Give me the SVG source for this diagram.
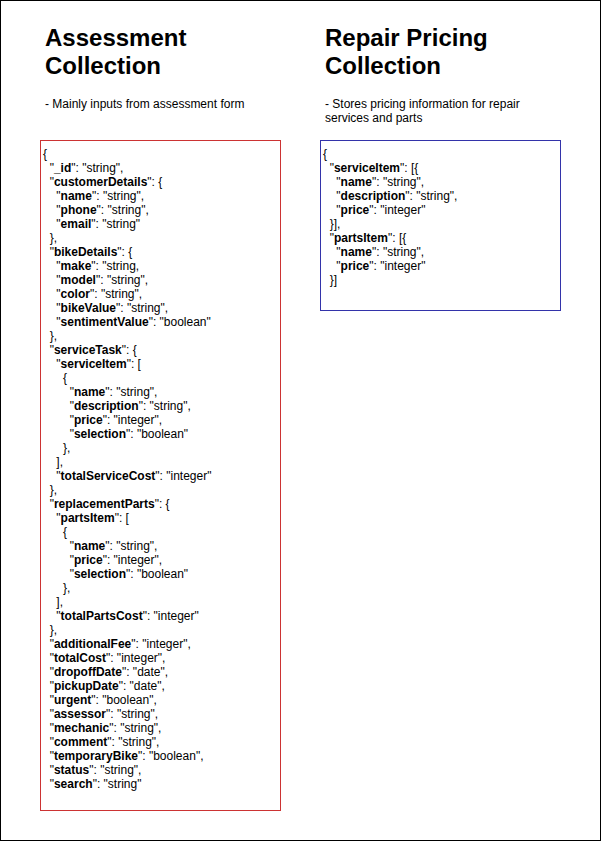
<svg xmlns="http://www.w3.org/2000/svg" width="601" height="841" viewBox="0 0 601 841">
<style>
.t{font-family:"Liberation Sans",Arial,sans-serif;fill:#000}
.h{font-size:24px;font-weight:bold}
.s{font-size:12px}
.c{font-size:12px;white-space:pre}
.k{font-weight:bold}
</style>
<rect x="0.5" y="0.5" width="600" height="840" fill="#fff" stroke="#000" stroke-width="1"/>
<g id="assessment-title">
<text class="t h" x="45" y="46">Assessment</text>
<text class="t h" x="45" y="73.6">Collection</text>
<text class="t s" x="45" y="107.5">- Mainly inputs from assessment form</text>
</g>
<g id="pricing-title">
<text class="t h" x="325" y="46">Repair Pricing</text>
<text class="t h" x="325" y="73.6">Collection</text>
<text class="t s" x="325" y="107.5">- Stores pricing information for repair</text>
<text class="t s" x="325" y="121.5">services and parts</text>
</g>
<g id="assessment-schema">
<rect x="40.5" y="140.5" width="240" height="670" fill="none" stroke="#cc3333" stroke-width="1"/>
<text class="t c">
<tspan x="43" y="158">{</tspan>
<tspan x="43" y="172">  "<tspan class="k">_id</tspan>": "string",</tspan>
<tspan x="43" y="186">  "<tspan class="k">customerDetails</tspan>": {</tspan>
<tspan x="43" y="200">    "<tspan class="k">name</tspan>": "string",</tspan>
<tspan x="43" y="214">    "<tspan class="k">phone</tspan>": "string",</tspan>
<tspan x="43" y="228">    "<tspan class="k">email</tspan>": "string"</tspan>
<tspan x="43" y="242">  },</tspan>
<tspan x="43" y="256">  "<tspan class="k">bikeDetails</tspan>": {</tspan>
<tspan x="43" y="270">    "<tspan class="k">make</tspan>": "string,</tspan>
<tspan x="43" y="284">    "<tspan class="k">model</tspan>": "string",</tspan>
<tspan x="43" y="298">    "<tspan class="k">color</tspan>": "string",</tspan>
<tspan x="43" y="312">    "<tspan class="k">bikeValue</tspan>": "string",</tspan>
<tspan x="43" y="326">    "<tspan class="k">sentimentValue</tspan>": "boolean"</tspan>
<tspan x="43" y="340">  },</tspan>
<tspan x="43" y="354">  "<tspan class="k">serviceTask</tspan>": {</tspan>
<tspan x="43" y="368">    "<tspan class="k">serviceItem</tspan>": [</tspan>
<tspan x="43" y="382">      {</tspan>
<tspan x="43" y="396">        "<tspan class="k">name</tspan>": "string",</tspan>
<tspan x="43" y="410">        "<tspan class="k">description</tspan>": "string",</tspan>
<tspan x="43" y="424">        "<tspan class="k">price</tspan>": "integer",</tspan>
<tspan x="43" y="438">        "<tspan class="k">selection</tspan>": "boolean"</tspan>
<tspan x="43" y="452">      },</tspan>
<tspan x="43" y="466">    ],</tspan>
<tspan x="43" y="480">    "<tspan class="k">totalServiceCost</tspan>": "integer"</tspan>
<tspan x="43" y="494">  },</tspan>
<tspan x="43" y="508">  "<tspan class="k">replacementParts</tspan>": {</tspan>
<tspan x="43" y="522">    "<tspan class="k">partsItem</tspan>": [</tspan>
<tspan x="43" y="536">      {</tspan>
<tspan x="43" y="550">        "<tspan class="k">name</tspan>": "string",</tspan>
<tspan x="43" y="564">        "<tspan class="k">price</tspan>": "integer",</tspan>
<tspan x="43" y="578">        "<tspan class="k">selection</tspan>": "boolean"</tspan>
<tspan x="43" y="592">      },</tspan>
<tspan x="43" y="606">    ],</tspan>
<tspan x="43" y="620">    "<tspan class="k">totalPartsCost</tspan>": "integer"</tspan>
<tspan x="43" y="634">  },</tspan>
<tspan x="43" y="648">  "<tspan class="k">additionalFee</tspan>": "integer",</tspan>
<tspan x="43" y="662">  "<tspan class="k">totalCost</tspan>": "integer",</tspan>
<tspan x="43" y="676">  "<tspan class="k">dropoffDate</tspan>": "date",</tspan>
<tspan x="43" y="690">  "<tspan class="k">pickupDate</tspan>": "date",</tspan>
<tspan x="43" y="704">  "<tspan class="k">urgent</tspan>": "boolean",</tspan>
<tspan x="43" y="718">  "<tspan class="k">assessor</tspan>": "string",</tspan>
<tspan x="43" y="732">  "<tspan class="k">mechanic</tspan>": "string",</tspan>
<tspan x="43" y="746">  "<tspan class="k">comment</tspan>": "string",</tspan>
<tspan x="43" y="760">  "<tspan class="k">temporaryBike</tspan>": "boolean",</tspan>
<tspan x="43" y="774">  "<tspan class="k">status</tspan>": "string",</tspan>
<tspan x="43" y="788">  "<tspan class="k">search</tspan>": "string"</tspan>
</text>
</g>
<g id="pricing-schema">
<rect x="320.5" y="140.5" width="240" height="170" fill="none" stroke="#3333aa" stroke-width="1"/>
<text class="t c">
<tspan x="323" y="158">{</tspan>
<tspan x="323" y="172">  "<tspan class="k">serviceItem</tspan>": [{</tspan>
<tspan x="323" y="186">    "<tspan class="k">name</tspan>": "string",</tspan>
<tspan x="323" y="200">    "<tspan class="k">description</tspan>": "string",</tspan>
<tspan x="323" y="214">    "<tspan class="k">price</tspan>": "integer"</tspan>
<tspan x="323" y="228">  }],</tspan>
<tspan x="323" y="242">  "<tspan class="k">partsItem</tspan>": [{</tspan>
<tspan x="323" y="256">    "<tspan class="k">name</tspan>": "string",</tspan>
<tspan x="323" y="270">    "<tspan class="k">price</tspan>": "integer"</tspan>
<tspan x="323" y="284">  }]</tspan>
</text>
</g>
<g id="connectors"></g>
</svg>
